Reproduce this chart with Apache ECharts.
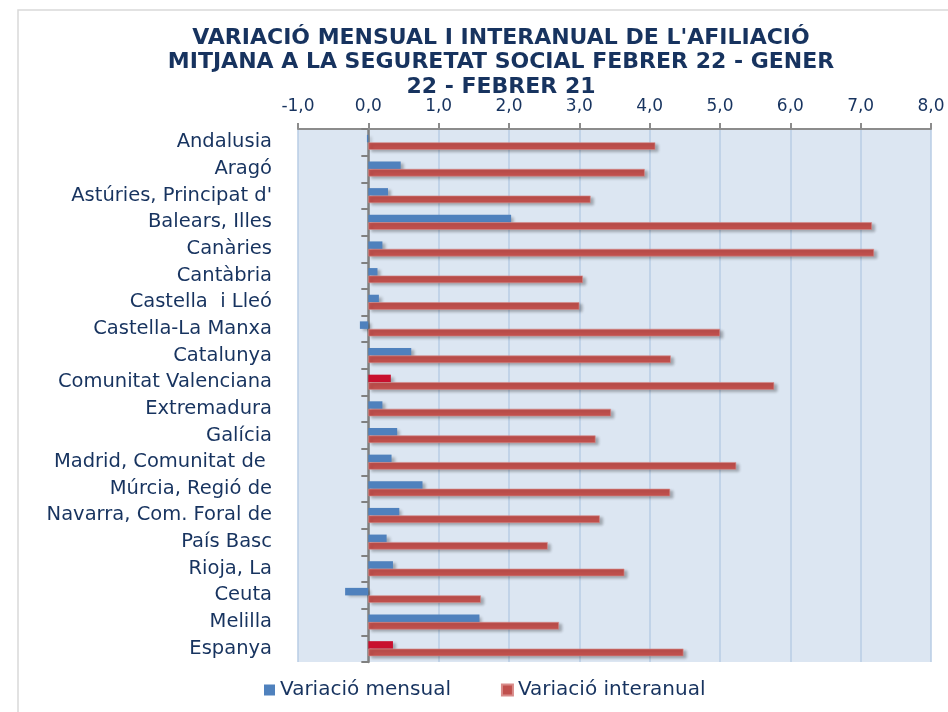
<!DOCTYPE html>
<html>
<head>
<meta charset="utf-8">
<script src="https://cdn.jsdelivr.net/npm/echarts@6/dist/echarts.min.js"></script>
<style>
  html, body { margin: 0; padding: 0; background: #fff; }
  #chart { width: 948px; height: 712px; }
</style>
</head>
<body>
<div id="chart"></div>
<script>
const categories = [
    'Andalusia', 'Aragó', "Astúries, Principat d'", 'Balears, Illes', 'Canàries',
    'Cantàbria', 'Castella  i Lleó', 'Castella-La Manxa', 'Catalunya', 'Comunitat Valenciana',
    'Extremadura', 'Galícia', 'Madrid, Comunitat de ', 'Múrcia, Regió de', 'Navarra, Com. Foral de',
    'País Basc', 'Rioja, La', 'Ceuta', 'Melilla', 'Espanya'
];
const monthly = [-0.02, 0.46, 0.28, 2.03, 0.20, 0.13, 0.15, -0.12, 0.61, 0.32,
    0.20, 0.41, 0.33, 0.77, 0.44, 0.26, 0.35, -0.33, 1.58, 0.35];
const annual = [4.08, 3.93, 3.16, 7.16, 7.19, 3.05, 3.00, 5.00, 4.30, 5.77,
    3.45, 3.23, 5.23, 4.29, 3.29, 2.55, 3.64, 1.60, 2.71, 4.48];
// these two rows get the monthly bar in crimson in the original
const highlighted = ['Comunitat Valenciana', 'Espanya'];

const navy = '#17335F';
const font = 'DejaVu Sans';

const chart = echarts.init(document.getElementById('chart'), null, { renderer: 'canvas' });

const barShadow = {
    shadowBlur: 3,
    shadowOffsetX: 3,
    shadowOffsetY: 2,
    shadowColor: 'rgba(0,0,0,0.28)',
};

chart.setOption({
    animation: false,
    backgroundColor: '#fff',
    title: {
        text: "VARIACIÓ MENSUAL I INTERANUAL DE L'AFILIACIÓ\nMITJANA A LA SEGURETAT SOCIAL FEBRER 22 - GENER\n22 - FEBRER 21",
        left: 496,
        top: 21,
        textAlign: 'center',
        textStyle: {
            fontFamily: font,
            fontWeight: 'bold',
            fontSize: 22,
            lineHeight: 24.5,
            color: navy,
        },
    },
    graphic: [{
        type: 'rect',
        shape: { x: 18, y: 10, width: 940, height: 720 },
        style: { fill: 'none', stroke: '#D9D9D9', lineWidth: 1.5 },
        silent: true,
    }],
    legend: {
        bottom: 7,
        left: 259,
        icon: 'rect',
        itemWidth: 11,
        itemHeight: 11,
        itemGap: 50,
        textStyle: { fontFamily: font, fontSize: 20, color: navy },
        data: ['Variació mensual', 'Variació interanual'],
    },
    grid: {
        left: 298,
        right: 17,
        top: 129,
        bottom: 50,
        show: true,
        backgroundColor: '#DCE6F2',
        borderWidth: 0,
    },
    xAxis: {
        type: 'value',
        position: 'top',
        min: -1,
        max: 8,
        interval: 1,
        axisLine: { show: true, onZero: false, lineStyle: { color: '#8C8C8C', width: 2 } },
        axisTick: { show: true, length: 6, lineStyle: { color: '#8C8C8C', width: 2 } },
        splitLine: { show: true, lineStyle: { color: '#B9CDE5', width: 1.5 } },
        axisLabel: {
            margin: 14,
            fontFamily: font,
            fontSize: 17,
            color: navy,
            formatter: (v) => v.toFixed(1).replace('.', ','),
        },
    },
    yAxis: [
        {
            type: 'category',
            inverse: true,
            data: categories,
            axisLine: { show: false, onZero: false },
            axisTick: { show: false },
            axisLabel: { margin: 26, fontFamily: font, fontSize: 19.5, color: navy },
        },
        {
            // zero line with its ticks, labels stay on the first axis
            type: 'category',
            inverse: true,
            data: categories,
            position: 'right',
            axisLine: { show: true, onZero: true, lineStyle: { color: '#808080', width: 2.5 } },
            axisTick: { show: true, inside: true, length: 7, lineStyle: { color: '#808080', width: 2 } },
            axisLabel: { show: false },
        },
    ],
    series: [
        {
            name: 'Variació mensual',
            type: 'bar',
            yAxisIndex: 0,
            barWidth: 7.5,
            barGap: '0%',
            itemStyle: { color: '#4F81BD', ...barShadow },
            data: monthly.map((v, i) => highlighted.includes(categories[i])
                ? { value: v, itemStyle: { color: '#C8102E' } }
                : v),
        },
        {
            name: 'Variació interanual',
            type: 'bar',
            yAxisIndex: 0,
            barWidth: 7.5,
            itemStyle: { color: '#C0504D', borderColor: '#D88B89', borderWidth: 0.6, ...barShadow },
            data: annual,
        },
    ],
});
</script>
</body>
</html>
